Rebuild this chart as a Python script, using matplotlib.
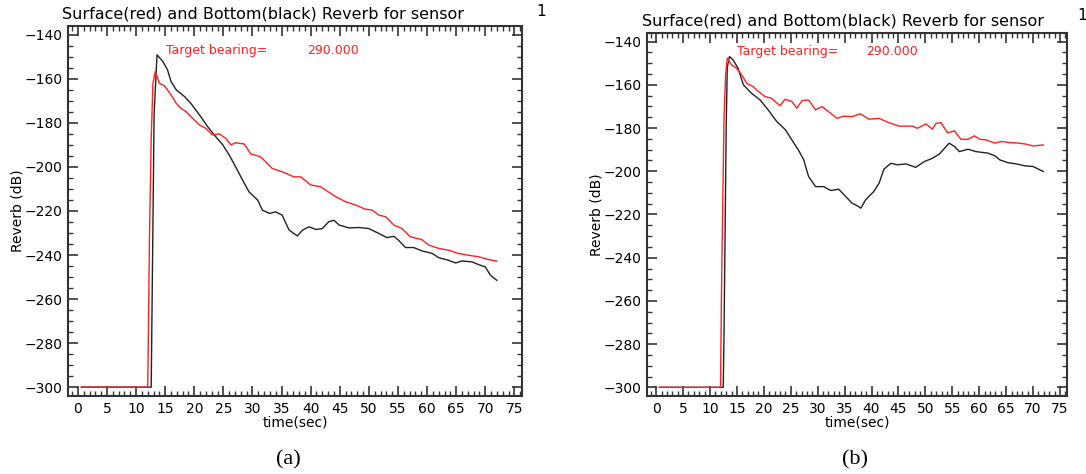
import numpy as np
import matplotlib.pyplot as plt
from matplotlib.ticker import MultipleLocator

# panel (a)
a_red_t = [0.6, 12.0, 12.1, 12.3, 12.6, 12.9, 13.3, 14.0, 14.9, 16.0, 16.9, 17.7, 18.6, 19.7, 20.9,
           22.0, 23.1, 24.3, 25.4, 26.3, 27.1, 28.6, 29.7, 31.4, 33.4, 35.1, 37.1, 38.3, 40.0,
           41.7, 44.3, 46.0, 47.7, 49.4, 50.6, 51.7, 52.9, 54.3, 55.7, 57.1, 59.1, 60.3, 62.0,
           63.7, 65.4, 67.1, 68.9, 70.6, 72.0]
a_red_v = [-300, -300, -280, -232, -187, -162, -156.7, -162, -163.2, -167.3, -171.1, -173.4, -174.9,
           -177.9, -180.9, -182.5, -185.5, -185, -187, -190, -189, -189.6, -194.1, -195.4, -200.7,
           -202.2, -204.5, -204.5, -208.2, -209, -213.5, -215.8, -217.3, -219.2, -219.6, -221.9,
           -222.6, -226.4, -228, -231.7, -233, -235.5, -237, -237.8, -239.3, -240.1, -240.8,
           -242.1, -242.8]
a_blk_t = [0.6, 12.6, 12.7, 12.9, 13.1, 13.6, 14.6, 15.4, 16.0, 16.9, 18.3, 19.4, 20.9, 22.3, 23.7,
           24.9, 26.0, 27.1, 28.3, 29.4, 30.9, 31.7, 32.9, 34.0, 35.1, 36.3, 37.7, 38.6, 39.7,
           40.9, 42.0, 43.1, 44.0, 44.9, 46.6, 48.3, 50.0, 51.7, 53.1, 54.3, 55.1, 56.3, 57.7,
           59.1, 60.9, 62.0, 63.7, 64.9, 66.0, 67.7, 69.1, 70.0, 70.9, 72.0]
a_blk_v = [-300, -300, -275, -225, -176, -149.1, -152.1, -155.9, -161.2, -165, -168, -171.1, -176.4,
           -181.7, -186.3, -190, -194.6, -199.9, -206, -211.3, -215.1, -219.6, -221.1, -220.4,
           -221.9, -228.7, -231.3, -228.7, -227.2, -228.4, -228, -224.9, -224.2, -226.4, -227.7,
           -227.5, -228, -230.2, -232.1, -231.5, -233.3, -236.6, -236.6, -238.1, -239.3, -241.2,
           -242.4, -243.6, -242.7, -243.1, -244.6, -245.4, -249.2, -251.5]

# panel (b)
b_red_t = [0.6, 11.95, 12.1, 12.3, 12.6, 12.9, 13.2, 14.0, 14.9, 15.9, 16.8, 18.0, 19.0, 20.2, 21.4,
           23.0, 23.9, 25.2, 26.1, 27.1, 28.3, 29.6, 30.8, 32.0, 33.6, 34.8, 36.4, 37.9, 39.5,
           41.4, 43.2, 45.1, 47.6, 48.5, 50.1, 51.3, 52.0, 52.9, 54.1, 55.4, 56.6, 57.9, 59.1,
           60.1, 61.3, 62.9, 64.1, 65.6, 67.5, 68.8, 70.0, 71.9]
b_red_v = [-300, -300, -262, -225, -175, -155, -147.7, -150.8, -152.3, -155.4, -159.3, -160.8,
           -163.1, -165.4, -166.2, -169.7, -166.7, -167.7, -170.8, -167.3, -167, -171.6, -170.1,
           -172.4, -175.5, -174.5, -174.7, -173.4, -175.9, -175.5, -177.5, -179.1, -179.1,
           -180.1, -178.1, -180.5, -177.8, -177.5, -182.2, -181.3, -185.2, -185.2, -183.6,
           -185.2, -185.5, -187, -186.2, -186.7, -187, -187.5, -188.3, -187.8]
b_blk_t = [0.6, 12.45, 12.6, 12.8, 13.0, 13.2, 13.6, 14.3, 15.2, 16.2, 17.7, 19.3, 20.8, 22.4, 24.0,
           25.2, 26.4, 27.4, 28.3, 29.6, 31.1, 32.4, 33.9, 35.2, 36.4, 37.6, 38.0, 38.9, 40.4,
           41.4, 42.3, 43.6, 44.8, 46.4, 48.2, 49.8, 51.3, 52.6, 54.4, 55.4, 56.3, 57.9, 59.4,
           61.6, 62.9, 63.8, 65.3, 66.9, 68.5, 70.0, 71.9]
b_blk_v = [-300, -300, -275, -228, -180, -152, -146.9, -148.5, -152.3, -160, -163.9, -167, -171.6,
           -177, -180.8, -185.5, -190.1, -194.7, -202.4, -207.1, -207.1, -208.9, -208.3, -211.7,
           -214.8, -216.3, -217.1, -213.2, -209.4, -205.5, -199, -196.3, -197, -196.6, -198.2,
           -195.5, -194, -192, -187, -188.5, -190.9, -189.8, -190.9, -191.6, -192.8, -194.7,
           -196, -196.6, -197.5, -197.8, -200.1]

title = 'Surface(red) and Bottom(black) Reverb for sensor'
bearing = '290.000'

fig = plt.figure(figsize=(10.86, 4.74), dpi=100)
ax1 = fig.add_axes([0.0626, 0.1646, 0.418, 0.7806])
ax2 = fig.add_axes([0.5958, 0.1646, 0.3867, 0.7658])

panels = [(ax1, a_red_t, a_red_v, a_blk_t, a_blk_v, 0.216, 0.526, 0.935),
          (ax2, b_red_t, b_red_v, b_blk_t, b_blk_v, 0.214, 0.521, 0.948)]

for ax, rt, rv, bt, bv, tx1, tx2, ty in panels:
    ax.plot(bt, bv, color='#222222', lw=1.0)
    ax.plot(rt, rv, color='#ff2020', lw=1.0)
    ax.set_xlim(-1.7, 76.3)
    ax.set_ylim(-304, -136)
    ax.xaxis.set_major_locator(MultipleLocator(5))
    ax.xaxis.set_minor_locator(MultipleLocator(1))
    ax.yaxis.set_major_locator(MultipleLocator(20))
    ax.yaxis.set_minor_locator(MultipleLocator(5))
    ax.tick_params(which='both', direction='in', top=True, right=True, color='#333333',
                   labelsize=10, pad=4)
    ax.tick_params(which='major', length=7, width=1.2)
    ax.tick_params(which='minor', length=3.5, width=1.0)
    for s in ax.spines.values():
        s.set_linewidth(1.5)
        s.set_color('#333333')
    ax.set_xlabel('time(sec)', fontsize=10, labelpad=0)
    ax.set_ylabel('Reverb (dB)', fontsize=10, labelpad=0)
    ax.text(tx1, ty, 'Target bearing=', color='#ff2020', fontsize=9, transform=ax.transAxes,
            va='center')
    ax.text(tx2, ty, bearing, color='#ff2020', fontsize=9, transform=ax.transAxes, va='center')

fig.text(62 / 1086, 1 - 14 / 474, title, fontsize=11.5, va='center', ha='left')
fig.text(536 / 1086, 1 - 12 / 474, '1', fontsize=11, va='center', ha='left')
fig.text(642 / 1086, 1 - 21 / 474, title, fontsize=11.5, va='center', ha='left')
fig.text(1077 / 1086, 1 - 16 / 474, '1', fontsize=11, va='center', ha='left')

fig.text(288 / 1086, 1 - 460 / 474, '(a)', fontsize=16, family='Liberation Serif',
         ha='center', va='center')
fig.text(855 / 1086, 1 - 460 / 474, '(b)', fontsize=16, family='Liberation Serif',
         ha='center', va='center')

fig.savefig('out.png', dpi=100)
